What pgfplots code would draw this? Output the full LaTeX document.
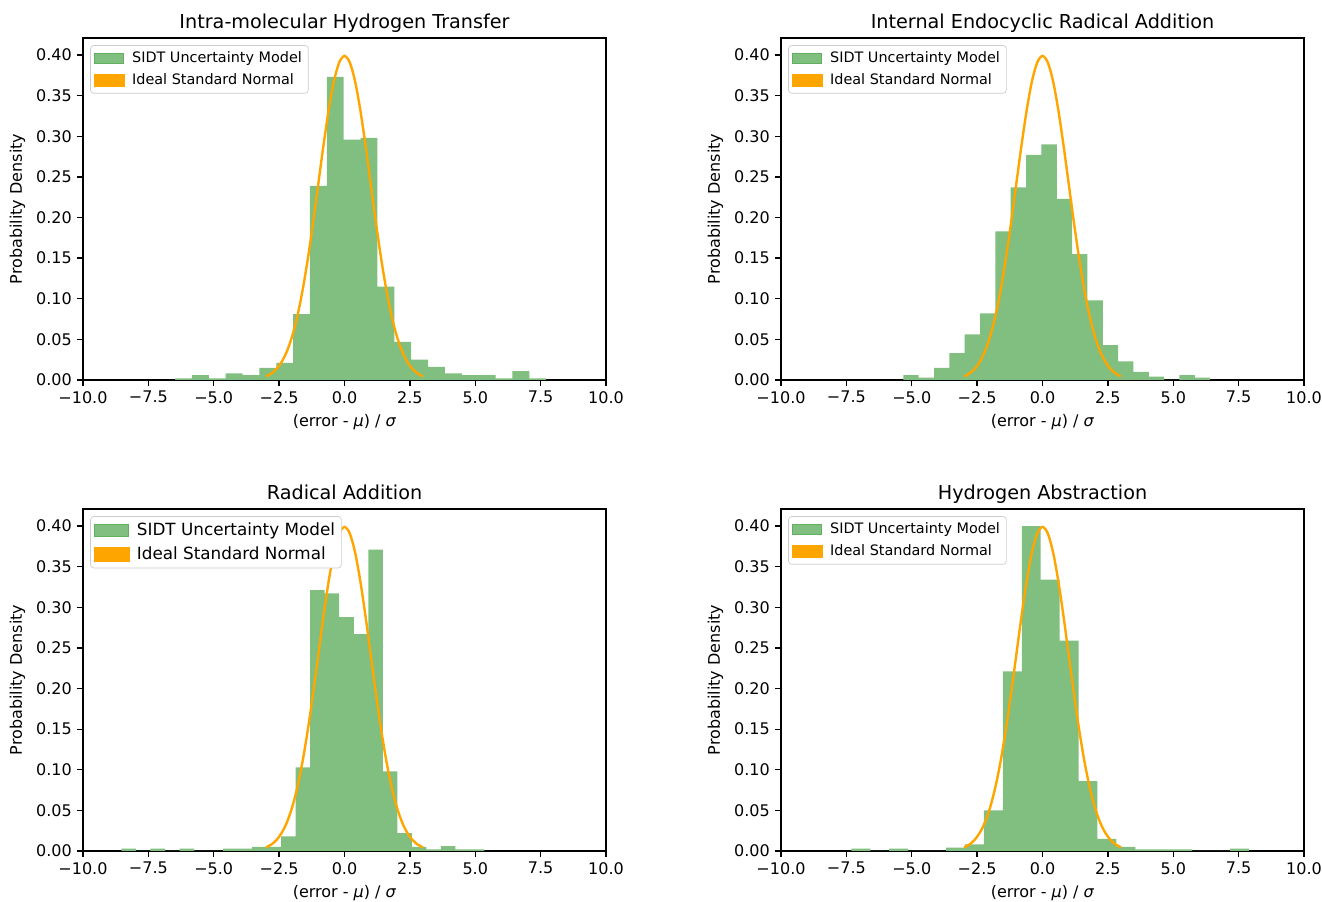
\documentclass[border=0pt]{standalone}
\usepackage{fontspec}
\setmainfont{DejaVu Sans}
\usepackage{pgfplots}
\usepackage{pgfplotstable}
\pgfplotsset{compat=1.18}

\definecolor{histgreen}{RGB}{128,191,128}
\definecolor{histedge}{RGB}{96,176,96}
\definecolor{mplorange}{HTML}{FFA500}
\definecolor{legframe}{RGB}{204,204,204}

% bin left edges and densities (last row = right edge of last bin)
\pgfplotstableread{
x y
-6.480 0.002
-5.835 0.006
-5.190 0.002
-4.545 0.008
-3.900 0.006
-3.255 0.015
-2.610 0.021
-1.965 0.081
-1.320 0.239
-0.675 0.373
-0.030 0.296
0.615 0.298
1.260 0.115
1.905 0.047
2.550 0.025
3.195 0.016
3.840 0.008
4.485 0.006
5.130 0.006
5.775 0.002
6.420 0.011
7.065 0.002
7.710 0.002
}\histA

\pgfplotstableread{
x y
-5.320 0.006
-4.734 0.003
-4.147 0.015
-3.561 0.033
-2.974 0.056
-2.388 0.082
-1.801 0.183
-1.215 0.237
-0.628 0.277
-0.042 0.290
0.545 0.223
1.132 0.155
1.718 0.098
2.305 0.043
2.891 0.023
3.478 0.010
4.064 0.004
4.651 0.000
5.237 0.006
5.824 0.003
6.410 0.003
}\histB

\pgfplotstableread{
x y
-8.530 0.003
-7.975 0.000
-7.420 0.003
-6.864 0.000
-6.309 0.003
-5.754 0.000
-5.199 0.000
-4.644 0.003
-4.088 0.003
-3.533 0.005
-2.978 0.005
-2.423 0.018
-1.868 0.103
-1.312 0.321
-0.757 0.317
-0.202 0.288
0.354 0.267
0.909 0.371
1.464 0.098
2.020 0.022
2.575 0.005
3.130 0.002
3.685 0.006
4.240 0.002
4.796 0.002
5.351 0.002
}\histC

\pgfplotstableread{
x y
-7.310 0.003
-6.586 0.000
-5.862 0.003
-5.138 0.000
-4.414 0.000
-3.690 0.004
-2.966 0.008
-2.242 0.050
-1.518 0.221
-0.794 0.400
-0.070 0.334
0.654 0.259
1.378 0.086
2.102 0.015
2.826 0.005
3.550 0.002
4.274 0.002
4.998 0.002
5.722 0.000
6.446 0.000
7.170 0.003
7.894 0.003
}\histD

% standard normal density, read at steps of 0.2
\pgfplotstableread{
x y
-3.0 0.0044
-2.8 0.0079
-2.6 0.0136
-2.4 0.0224
-2.2 0.0355
-2.0 0.0540
-1.8 0.0790
-1.6 0.1109
-1.4 0.1497
-1.2 0.1942
-1.0 0.2420
-0.8 0.2897
-0.6 0.3332
-0.4 0.3683
-0.2 0.3910
0.0 0.3989
0.2 0.3910
0.4 0.3683
0.6 0.3332
0.8 0.2897
1.0 0.2420
1.2 0.1942
1.4 0.1497
1.6 0.1109
1.8 0.0790
2.0 0.0540
2.2 0.0355
2.4 0.0224
2.6 0.0136
2.8 0.0079
3.0 0.0044
}\normal

\pgfplotsset{
  panel/.style={
    scale only axis, width=326.875pt, height=213.75pt,
    anchor=south west,
    xmin=-10, xmax=10, ymin=0, ymax=0.421,
    xtick={-10,-7.5,-5,-2.5,0,2.5,5,7.5,10},
    xticklabels={−10.0,−7.5,−5.0,−2.5,0.0,2.5,5.0,7.5,10.0},
    ytick={0,0.05,0.1,0.15,0.2,0.25,0.3,0.35,0.4},
    yticklabels={0.00,0.05,0.10,0.15,0.20,0.25,0.30,0.35,0.40},
    tick pos=left, tick align=outside,
    major tick length=3.5pt,
    every tick/.style={black, line width=0.8pt},
    axis line style={line width=0.8pt},
    tick label style={font=\fontsize{10}{12}\selectfont},
    label style={font=\fontsize{10}{12}\selectfont},
    title style={font=\fontsize{12}{14}\selectfont, anchor=base},
    xlabel={(error - \textit{μ}) / \textit{σ}},
    ylabel={Probability Density},
    legend cell align=left,
    legend style={at={(0,1)}, anchor=north west, xshift=4.5pt, yshift=-4.5pt,
      draw=legframe, rounded corners=2pt, fill=white, text opacity=1,
      font=\fontsize{9}{11}\selectfont, inner xsep=2pt, inner ysep=1.8pt, row sep=1.6pt,
      /tikz/column 1/.style={column sep=2.5pt}},
  },
  hist/.style={const plot mark left, fill=histgreen, draw=none,
    legend image code/.code={\draw[sharp corners, draw=histedge, fill=histgreen, line width=0.6pt] (0pt,-3.2pt) rectangle (18pt,3.2pt);}},
  normal/.style={mplorange, line width=1.5pt, smooth,
    legend image code/.code={\fill[sharp corners, mplorange] (0pt,-3.3pt) rectangle (18pt,3.3pt);}},
}

\begin{document}
\begin{tikzpicture}
\begin{axis}[panel, at={(51.875pt,326.25pt)}, title={Intra-molecular Hydrogen Transfer}]
  \addplot[hist] table {\histA} \closedcycle;
  \addlegendentry{SIDT Uncertainty Model}
  \addplot[normal] table {\normal};
  \addlegendentry{Ideal Standard Normal}
\end{axis}

\begin{axis}[panel, at={(488.125pt,326.25pt)}, title={Internal Endocyclic Radical Addition}]
  \addplot[hist] table {\histB} \closedcycle;
  \addlegendentry{SIDT Uncertainty Model}
  \addplot[normal] table {\normal};
  \addlegendentry{Ideal Standard Normal}
\end{axis}

\begin{axis}[panel, at={(51.875pt,31.875pt)}, title={Radical Addition},
  legend style={font=\fontsize{10.5}{12.5}\selectfont}]
  \addplot[hist, legend image code/.code={\draw[sharp corners, draw=histedge, fill=histgreen, line width=0.6pt] (0pt,-3.7pt) rectangle (21pt,3.7pt);}] table {\histC} \closedcycle;
  \addlegendentry{SIDT Uncertainty Model}
  \addplot[normal, legend image code/.code={\fill[sharp corners, mplorange] (0pt,-3.8pt) rectangle (21pt,3.8pt);}] table {\normal};
  \addlegendentry{Ideal Standard Normal}
\end{axis}

\begin{axis}[panel, at={(488.125pt,31.875pt)}, title={Hydrogen Abstraction}]
  \addplot[hist] table {\histD} \closedcycle;
  \addlegendentry{SIDT Uncertainty Model}
  \addplot[normal] table {\normal};
  \addlegendentry{Ideal Standard Normal}
\end{axis}
\pgfresetboundingbox
\useasboundingbox (0,0) rectangle (826.25pt,563.75pt);
\end{tikzpicture}
\end{document}
